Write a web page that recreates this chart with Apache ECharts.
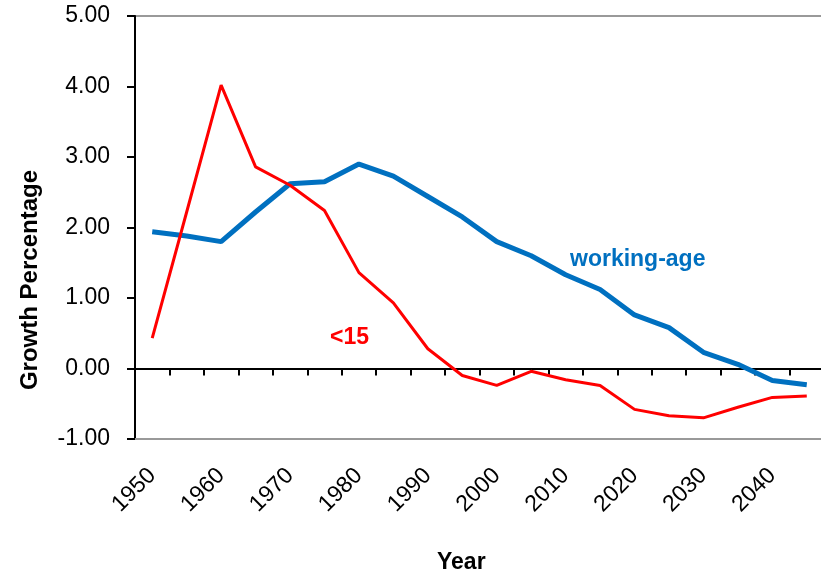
<!DOCTYPE html>
<html>
<head>
<meta charset="utf-8">
<script src="https://cdn.jsdelivr.net/npm/echarts@6/dist/echarts.min.js"></script>
<style>
  html, body { margin: 0; padding: 0; background: #fff; }
  #chart { width: 821px; height: 574px; }
</style>
</head>
<body>
<div id="chart"></div>
<script>
var years = ['1950', '1955', '1960', '1965', '1970', '1975', '1980', '1985', '1990', '1995',
  '2000', '2005', '2010', '2015', '2020', '2025', '2030', '2035', '2040', '2045']
var workingAge = [1.94, 1.88, 1.80, 2.22, 2.62, 2.65, 2.90, 2.73, 2.44, 2.15,
  1.80, 1.60, 1.33, 1.12, 0.76, 0.58, 0.23, 0.06, -0.17, -0.23]
var under15 = [0.43, 2.22, 4.02, 2.86, 2.60, 2.24, 1.36, 0.93, 0.28, -0.10,
  -0.24, -0.04, -0.16, -0.24, -0.58, -0.67, -0.70, -0.55, -0.41, -0.39]

var font = '"Liberation Sans", Arial, sans-serif'
var chart = echarts.init(document.getElementById('chart'))
var option = {
  animation: false,
  grid: {
    left: 135,
    right: -3,
    top: 16,
    bottom: 135,
    outerBoundsMode: 'none',
    show: true,
    borderColor: '#999',
    borderWidth: 2
  },
  xAxis: [
    {
      type: 'category',
      data: years,
      position: 'bottom',
      axisLine: { show: true, onZero: false, lineStyle: { color: '#999', width: 2 } },
      axisTick: { show: false },
      axisLabel: {
        interval: 1,
        rotate: 45,
        margin: 33,
        color: '#000',
        fontSize: 23,
        fontFamily: font
      },
      splitLine: { show: false }
    },
    {
      // zero line with category ticks
      type: 'category',
      data: years,
      position: 'bottom',
      axisLine: { show: true, onZero: true, lineStyle: { color: '#000', width: 2 } },
      axisTick: { show: true, interval: 0, length: 7, lineStyle: { color: '#000', width: 2 } },
      axisLabel: { show: false },
      splitLine: { show: false }
    }
  ],
  yAxis: {
    type: 'value',
    min: -1,
    max: 5,
    interval: 1,
    axisLine: { show: true, lineStyle: { color: '#000', width: 2 } },
    axisTick: { show: true, length: 8, lineStyle: { color: '#000', width: 2 } },
    axisLabel: {
      margin: 25,
      color: '#000',
      fontSize: 23,
      fontFamily: font,
      formatter: function (v) { return v.toFixed(2) }
    },
    splitLine: { show: false }
  },
  series: [
    {
      name: 'working-age',
      type: 'line',
      data: workingAge,
      symbol: 'none',
      lineStyle: { color: '#0070C0', width: 5 },
      itemStyle: { color: '#0070C0' }
    },
    {
      name: '<15',
      type: 'line',
      data: under15,
      symbol: 'none',
      lineStyle: { color: '#FF0000', width: 3 },
      itemStyle: { color: '#FF0000' }
    }
  ],
  graphic: [
    {
      type: 'text',
      left: 570,
      top: 248,
      style: { text: 'working-age', fill: '#0070C0', font: 'bold 23px ' + font }
    },
    {
      type: 'text',
      left: 330,
      top: 326,
      style: { text: '<15', fill: '#FF0000', font: 'bold 23px ' + font }
    },
    {
      type: 'text',
      left: 18,
      top: 170,
      rotation: Math.PI / 2,
      style: { text: 'Growth Percentage', fill: '#000', font: 'bold 24px ' + font }
    },
    {
      type: 'text',
      left: 437,
      top: 551,
      style: { text: 'Year', fill: '#000', font: 'bold 23px ' + font }
    }
  ]
}
chart.setOption(option)
</script>
</body>
</html>
